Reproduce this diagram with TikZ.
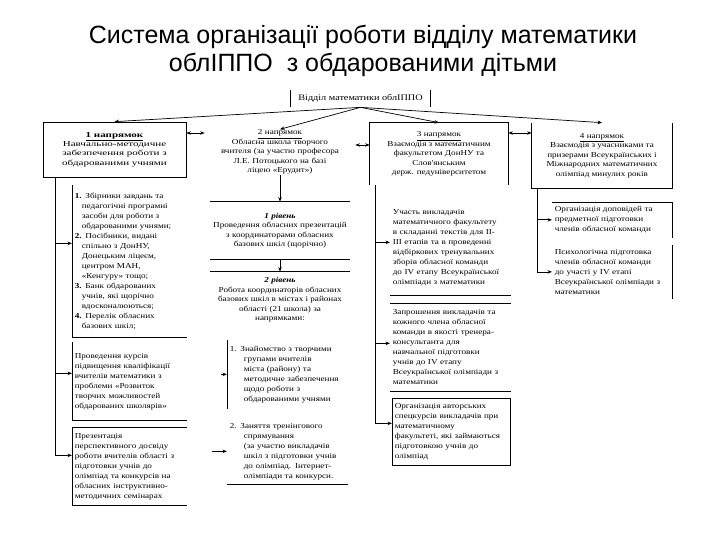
\documentclass[tikz,border=0pt]{standalone}
\usepackage{fontspec}
\setmainfont{Liberation Serif}
\newfontfamily\titlefont{Liberation Sans}
\newfontfamily\boxfont[FakeStretch=1.2]{Liberation Serif}
\newfontfamily\widefont[FakeStretch=1.45]{Liberation Serif}
\usetikzlibrary{arrows.meta}
\newcommand{\hind}{\hspace*{7pt}}

\begin{document}
\begin{tikzpicture}[x=1pt,y=-1pt,line width=0.7pt,
  >={Stealth[length=4.5pt,width=3.5pt]},
  head/.style={font=\boxfont\fontsize{7.6}{9.5}\selectfont,align=center,inner sep=0pt},
  txt/.style={font=\boxfont\fontsize{7.6}{10}\selectfont,align=left,inner xsep=2.5pt,inner ysep=0pt,anchor=north west}]
\useasboundingbox (0,0) rectangle (720,540);

% Title
\node[font=\titlefont\fontsize{25}{28}\selectfont,align=center] (title) at (363,51)
  {Система організації роботи відділу математики\\облІППО\ \ з обдарованими дітьми};

% Department
\node[font=\boxfont\fontsize{8.5}{10}\selectfont,minimum width=139,minimum height=17,inner sep=0pt] (dept) at (360.5,98.5) {Відділ математики облІППО};
\draw (dept.north west) -- (dept.south west) (dept.north east) -- (dept.south east);

% Directions
\node[head,font=\widefont\fontsize{7.6}{9.3}\selectfont,draw,minimum width=143,minimum height=55] (dir1) at (114.5,149.5)
  {\underline{\textbf{1 напрямок}}\\Навчально-методичне\\забезпечення роботи з\\обдарованими учнями};
\node[head,text width=150] (dir2) at (280,152)
  {\underline{2 напрямок}\\Обласна школа творчого\\вчителя (за участю професора\\Л.Е. Потоцького на базі\\ліцею «Ерудит»)};
\node[head,minimum width=138,minimum height=62] (dir3) at (439,154)
  {\underline{3 напрямок}\\Взаємодія з математичним\\факультетом ДонНУ та\\Слов'янським\\держ. педуніверситетом};
\draw (dir3.south west) -- (dir3.north west) -- (dir3.north east) -- (dir3.south east);
\node[head,minimum width=140,minimum height=65] (dir4) at (602,155.5)
  {\underline{4 напрямок}\\Взаємодія з учасниками та\\призерами Всеукраїнських і\\Міжнародних математичних\\олімпіад минулих років};
\draw (dir4.north west) -- (dir4.south west) -- (dir4.south east) -- (dir4.north east);

\foreach \d in {dir1,dir2,dir3,dir4}
  \draw[->] (dept.south) -- (\d.north);

% Links between directions
\draw[<->] ([yshift=16.5pt]dir1.east) -- ([yshift=19pt]dir2.west);
\draw[<->] ([yshift=7pt]dir2.east) -- ([yshift=9pt]dir3.west);
\draw[<->] ([yshift=21pt]dir3.east) -- ([yshift=22.5pt]dir4.west);

% Column 1
\node[txt,text width=109,minimum height=152] (c1a) at (72,185)
  {\textbf{1.} Збірники завдань та\\\hind педагогічні програмні\\\hind засоби для роботи з\\\hind обдарованими учнями;\\
   \textbf{2.} Посібники, видані\\\hind спільно з ДонНУ,\\\hind Донецьким ліцеєм,\\\hind центром МАН,\\\hind «Кенгуру» тощо;\\
   \textbf{3.} Банк обдарованих\\\hind учнів, які щорічно\\\hind вдосконалюються;\\
   \textbf{4.} Перелік обласних\\\hind базових шкіл;};
\draw (c1a.north west) -- (c1a.south west) -- (c1a.south east);
\node[txt,text width=109,minimum height=78] (c1b) at (72,342)
  {Проведення курсів\\підвищення кваліфікації\\вчителів математики з\\проблеми «Розвиток\\творчих можливостей\\обдарованих школярів»};
\draw (c1b.north west) -- (c1b.south west) -- (c1b.south east);
\node[txt,text width=109,minimum height=78] (c1c) at (72,427)
  {Презентація\\перспективного досвіду\\роботи вчителів області з\\підготовки учнів до\\олімпіад та конкурсів на\\обласних інструктивно-\\методичних семінарах};
\draw (c1c.north east) -- (c1c.north west) -- (c1c.south west) -- (c1c.south east);

\coordinate (t1) at (dir1.south -| 55,0);
\foreach \b/\s in {c1a/18,c1b/8,c1c/11}
  \draw[->] (t1) |- ([yshift=\s pt]\b.west);

% Column 2
\node[head,minimum width=139,minimum height=57] (lvl1) at (280,230.5)
  {\textbf{\textit{1 рівень}}\\Проведення обласних презентацій\\з координаторами обласних\\базових шкіл (щорічно)};
\draw (lvl1.north west) -- (lvl1.north east) (lvl1.south west) -- (lvl1.south east);
\node[head,minimum width=139,minimum height=56] (lvl2) at (280,300)
  {\textbf{\textit{2 рівень}}\\Робота координаторів обласних\\базових шкіл в містах і районах\\області (21 школа) за\\напрямками:};
\draw (lvl2.north west) -- (lvl2.north east);
\draw[->] (dir2.south) -- (lvl1.north);
\draw[->] (lvl1.south) -- (lvl2.north);

\node[txt,text width=115,minimum height=68] (sub1) at (227,340)
  {1. Знайомство з творчими\\\hind\hind групами вчителів\\\hind\hind міста (району) та\\\hind\hind методичне забезпечення\\\hind\hind щодо роботи з\\\hind\hind обдарованими учнями};
\draw (sub1.north west) -- (sub1.south west);
\node[txt,text width=115,minimum height=66] (sub2) at (227,418)
  {2. Заняття тренінгового\\\hind\hind спрямування\\\hind\hind (за участю викладачів\\\hind\hind шкіл з підготовки учнів\\\hind\hind до олімпіад. Інтернет-\\\hind\hind олімпіади та конкурси.};
\draw (sub2.south west) -- (sub2.south east);
\draw[->] ([xshift=-6pt]sub1.west) -- (sub1.west);
\draw[->] ([xshift=-15pt]sub2.west) -- (sub2.west);

% Column 3
\node[txt,text width=115,minimum height=95] (c3a) at (390,200)
  {Участь викладачів\\математичного факультету\\в складанні текстів для II-\\III етапів та в проведенні\\відбіркових тренувальних\\зборів обласної команди\\до IV етапу Всеукраїнської\\олімпіади з математики};
\draw (c3a.south west) -- (c3a.south east);
\node[txt,text width=115,minimum height=88] (c3b) at (390,303)
  {Запрошення викладачів та\\кожного члена обласної\\команди в якості тренера-\\консультанта для\\навчальної підготовки\\учнів до IV етапу\\Всеукраїнської олімпіади з\\математики};
\draw (c3b.north west) -- (c3b.north east) (c3b.south west) -- (c3b.south east);
\node[txt,draw,text width=113,minimum height=67] (c3c) at (392,398)
  {Організація авторських\\спецкурсів викладачів при\\математичному\\факультеті, які займаються\\підготовкою учнів до\\олімпіад};

\coordinate (t3) at (dir3.south -| 375,0);
\foreach \b/\s in {c3a/5.5,c3b/4,c3c/8.5}
  \draw[->] (t3) |- ([yshift=\s pt]\b.west);

% Column 4
\node[txt,text width=115,minimum height=35] (c4a) at (552,202)
  {Організація доповідей та\\предметної підготовки\\членів обласної команди};
\draw (c4a.north west) -- (c4a.north east) -- (c4a.south east);
\node[txt,text width=115,minimum height=53] (c4b) at (552,245)
  {Психологічна підготовка\\членів обласної команди\\до участі у IV етапі\\Всеукраїнської олімпіади з\\математики};
\draw (c4b.north east) -- (c4b.south east);

\coordinate (t4) at (dir4.south -| 537,0);
\foreach \b in {c4a,c4b}
  \draw[->] (t4) |- (\b.west);

\end{tikzpicture}
\end{document}
